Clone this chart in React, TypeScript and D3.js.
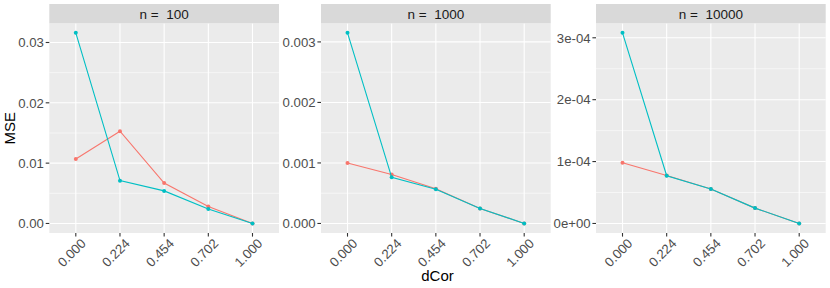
import React, { useEffect, useRef } from 'react';
import * as d3 from 'd3';

// x categories (discrete)
const dcorLevels = ['0.000', '0.224', '0.454', '0.702', '1.000'];

const panelTitles = ['n =  100', 'n =  1000', 'n =  10000'];

// series values per panel
const redN100 = [0.0107, 0.0153, 0.0067, 0.0028, 0.0];
const cyanN100 = [0.0316, 0.0071, 0.0054, 0.0024, 0.0];
const redN1000 = [0.00100, 0.00081, 0.000574, 0.000249, 0.0];
const cyanN1000 = [0.00315, 0.000763, 0.000564, 0.000249, 0.0];
const redN10000 = [0.98e-4, 0.775e-4, 0.557e-4, 0.248e-4, 0.0];
const cyanN10000 = [3.08e-4, 0.772e-4, 0.557e-4, 0.248e-4, 0.0];

// y tick breaks and labels per panel
const breaksN100 = [0, 0.01, 0.02, 0.03];
const labelsN100 = ['0.00', '0.01', '0.02', '0.03'];
const breaksN1000 = [0, 0.001, 0.002, 0.003];
const labelsN1000 = ['0.000', '0.001', '0.002', '0.003'];
const breaksN10000 = [0, 1e-4, 2e-4, 3e-4];
const labelsN10000 = ['0e+00', '1e-04', '2e-04', '3e-04'];

const seriesColors = ['#F8766D', '#00BFC4'];

const App: React.FC = () => {
  const svgRef = useRef<SVGSVGElement>(null);

  useEffect(() => {
    document.body.style.margin = '0';
    if (!svgRef.current) return;
    d3.select(svgRef.current).selectAll('*').remove();

    const width = 830;
    const height = 288;
    const font = "'Liberation Sans', Arial, sans-serif";

    const svg = d3.select(svgRef.current)
      .attr('width', width)
      .attr('height', height)
      .style('display', 'block')
      .style('font-family', font);

    svg.append('rect').attr('width', width).attr('height', height).attr('fill', '#fff');

    const panels = [
      { title: panelTitles[0], series: [redN100, cyanN100], breaks: breaksN100, labels: labelsN100 },
      { title: panelTitles[1], series: [redN1000, cyanN1000], breaks: breaksN1000, labels: labelsN1000 },
      { title: panelTitles[2], series: [redN10000, cyanN10000], breaks: breaksN10000, labels: labelsN10000 },
    ];

    const panelLefts = [49.3, 321, 596];
    const panelW = 229.7;
    const top = 23.3;
    const bottom = 233;
    const stripTop = 4;

    panels.forEach((p, pi) => {
      const left = panelLefts[pi];
      const g = svg.append('g');

      // discrete x: positions 1..5 with 0.6 expansion
      const x = d3.scaleLinear().domain([0.4, dcorLevels.length + 0.6]).range([left, left + panelW]);
      const allVals = p.series.flat();
      const lo = d3.min(allVals) as number;
      const hi = d3.max(allVals) as number;
      const pad = (hi - lo) * 0.05;
      const y = d3.scaleLinear().domain([lo - pad, hi + pad]).range([bottom, top]);

      // panel background
      g.append('rect')
        .attr('x', left).attr('y', top)
        .attr('width', panelW).attr('height', bottom - top)
        .attr('fill', '#EBEBEB');

      // minor y grid
      const step = p.breaks[1] - p.breaks[0];
      const minors = p.breaks.slice(0, -1).map(b => b + step / 2)
        .concat([p.breaks[p.breaks.length - 1] + step / 2, p.breaks[0] - step / 2])
        .filter(v => v >= y.domain()[0] && v <= y.domain()[1]);
      g.selectAll('.minor').data(minors).join('line')
        .attr('x1', left).attr('x2', left + panelW)
        .attr('y1', d => y(d)).attr('y2', d => y(d))
        .attr('stroke', '#fff').attr('stroke-width', 0.55);

      // major y grid
      g.selectAll('.majy').data(p.breaks).join('line')
        .attr('x1', left).attr('x2', left + panelW)
        .attr('y1', d => y(d)).attr('y2', d => y(d))
        .attr('stroke', '#fff').attr('stroke-width', 1.1);

      // major x grid
      g.selectAll('.majx').data(dcorLevels).join('line')
        .attr('x1', (d, i) => x(i + 1)).attr('x2', (d, i) => x(i + 1))
        .attr('y1', top).attr('y2', bottom)
        .attr('stroke', '#fff').attr('stroke-width', 1.1);

      // strip
      g.append('rect')
        .attr('x', left).attr('y', stripTop)
        .attr('width', panelW).attr('height', top - stripTop)
        .attr('fill', '#D9D9D9');
      g.append('text')
        .attr('x', left + panelW / 2).attr('y', 18.8)
        .attr('text-anchor', 'middle')
        .attr('font-size', 13.5)
        .attr('fill', '#1A1A1A')
        .style('white-space', 'pre')
        .text(p.title);

      // lines and points
      p.series.forEach((vals, si) => {
        const line = d3.line<number>()
          .x((d, i) => x(i + 1))
          .y(d => y(d));
        g.append('path')
          .datum(vals)
          .attr('d', line)
          .attr('fill', 'none')
          .attr('stroke', seriesColors[si])
          .attr('stroke-width', 1.1);
        g.selectAll(`.pt${si}`).data(vals).join('circle')
          .attr('cx', (d, i) => x(i + 1))
          .attr('cy', d => y(d))
          .attr('r', 2)
          .attr('fill', seriesColors[si]);
      });

      // y axis ticks + labels
      g.selectAll('.yt').data(p.breaks).join('line')
        .attr('x1', left - 3.6).attr('x2', left)
        .attr('y1', d => y(d)).attr('y2', d => y(d))
        .attr('stroke', '#333').attr('stroke-width', 1.1);
      g.selectAll('.yl').data(p.breaks).join('text')
        .attr('x', left - 5.4)
        .attr('y', d => y(d))
        .attr('dy', '0.36em')
        .attr('text-anchor', 'end')
        .attr('font-size', 13.2)
        .attr('fill', '#4D4D4D')
        .text((d, i) => p.labels[i]);

      // x axis ticks + labels
      g.selectAll('.xt').data(dcorLevels).join('line')
        .attr('x1', (d, i) => x(i + 1)).attr('x2', (d, i) => x(i + 1))
        .attr('y1', bottom).attr('y2', bottom + 3.6)
        .attr('stroke', '#333').attr('stroke-width', 1.1);
      g.selectAll('.xl').data(dcorLevels).join('text')
        .attr('transform', (d, i) => `translate(${x(i + 1) + 3.8},${bottom + 4.3}) rotate(-45)`)
        .attr('dy', '0.75em')
        .attr('text-anchor', 'end')
        .attr('font-size', 13.2)
        .attr('fill', '#4D4D4D')
        .text(d => d);
    });

    // axis titles
    svg.append('text')
      .attr('transform', `translate(15,${(top + bottom) / 2}) rotate(-90)`)
      .attr('text-anchor', 'middle')
      .attr('font-size', 15)
      .attr('fill', '#000')
      .text('MSE');
    svg.append('text')
      .attr('x', (panelLefts[0] + panelLefts[2] + panelW) / 2)
      .attr('y', 281)
      .attr('text-anchor', 'middle')
      .attr('font-size', 15)
      .attr('fill', '#000')
      .text('dCor');
  }, []);

  return <svg ref={svgRef} />;
};

export default App;
